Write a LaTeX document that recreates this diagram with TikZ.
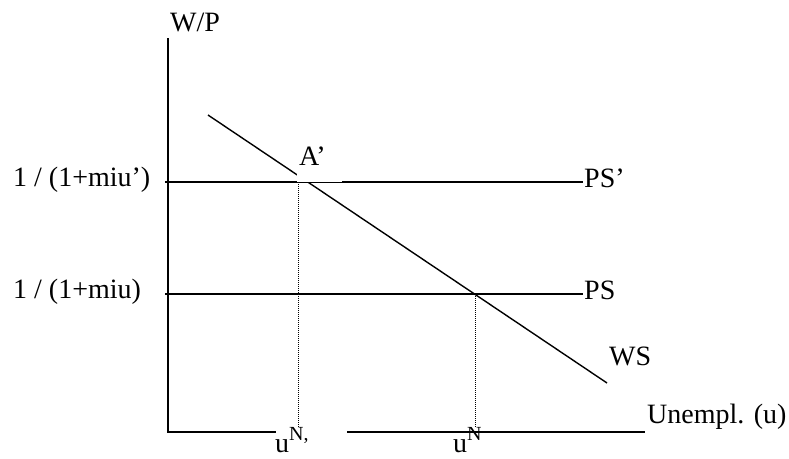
\documentclass[tikz,border=0pt]{standalone}
\usepackage{fontspec}
\setmainfont{Liberation Serif}
\begin{document}
\begin{tikzpicture}[x=1pt,y=-1pt,
  lbl/.style={inner sep=0pt,anchor=base west,font=\fontsize{28}{30}\selectfont},
  axis/.style={line width=1.5pt},
  curve/.style={line width=1.4pt},
  guide/.style={line width=1pt,dash pattern=on 1pt off 1pt}]
\useasboundingbox (0,0) rectangle (789,458);
% coordinates
\coordinate (ytop) at (168,38);
\coordinate (org) at (168,432);
\coordinate (xa) at (276,432);
\coordinate (xb) at (347,432);
\coordinate (xend) at (645,432);
\coordinate (ps1a) at (165,182);
\coordinate (ps1b) at (583,182);
\coordinate (ps2a) at (165,294);
\coordinate (ps2b) at (583,294);
\coordinate (ws1) at (208,115);
\coordinate (ws2) at (607,383);
\coordinate (d1t) at (298,182);
\coordinate (d1b) at (298,427);
\coordinate (d2t) at (475,294);
\coordinate (d2b) at (475,427);
% axes
\draw[axis] (ytop) -- (org) -- (xa);
\draw[axis] (xb) -- (xend);
% PS lines and WS
\draw[curve] (ps1a) -- (ps1b);
\draw[curve] (ps2a) -- (ps2b);
\draw[curve] (ws1) -- (ws2);
% dotted guides
\draw[guide] (d1t) -- (d1b);
\draw[guide] (d2t) -- (d2b);
% white label box for A'
\fill[white] (297,140) rectangle (342,182);
% labels
\node[lbl] (wp) at (170,31) {W/P};
\node[lbl] (l1) at (13,186) {1 / (1+miu’)};
\node[lbl] (l2) at (13,298) {1 / (1+miu)};
\node[lbl] (a) at (299,165) {A’};
\node[lbl] (psp) at (584,187) {PS’};
\node[lbl] (ps) at (584,299) {PS};
\node[lbl] (ws) at (609,365) {WS};
\node[lbl] (un) at (647,423) {Unempl. (u)};
\node[lbl] (un1) at (275,452) {u\raisebox{12pt}{\fontsize{20}{20}\selectfont N,}};
\node[lbl] (un2) at (453,452) {u\raisebox{12pt}{\fontsize{20}{20}\selectfont N}};
\end{tikzpicture}
\end{document}
